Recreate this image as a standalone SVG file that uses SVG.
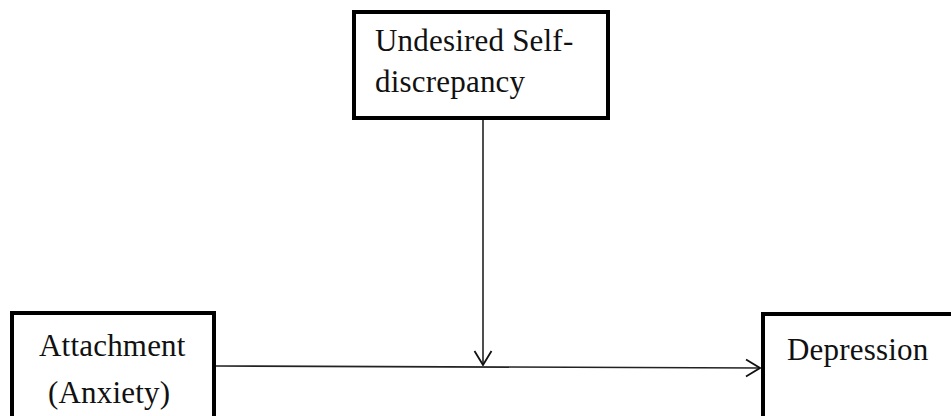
<svg xmlns="http://www.w3.org/2000/svg" width="951" height="416" viewBox="0 0 951 416">
<style>
.box{fill:#fff;stroke:#000;stroke-width:4}
.t{font-family:"Liberation Serif","Times New Roman",serif;font-size:31px;letter-spacing:0.2px;fill:#111}
.c{fill:none;stroke:#222;stroke-width:1.6}
</style>
<defs>
<marker id="ah" viewBox="0 0 16 20" refX="15" refY="10" markerWidth="16" markerHeight="20" markerUnits="userSpaceOnUse" orient="auto">
<path d="M1,1.5 L15,10 L1,18.5" fill="none" stroke="#111" stroke-width="1.8"/>
</marker>
</defs>
<rect width="951" height="416" fill="#fff"/>
<g id="connectors">
<line class="c" x1="216" y1="366" x2="760" y2="368" marker-end="url(#ah)"/>
<line class="c" x1="483" y1="120" x2="483" y2="365" marker-end="url(#ah)"/>
</g>
<g id="node-self-discrepancy">
<rect class="box" x="354" y="12" width="254" height="106"/>
<text class="t" x="375" y="51">Undesired Self-</text>
<text class="t" x="375" y="92">discrepancy</text>
</g>
<g id="node-attachment">
<rect class="box" x="12" y="313" width="202" height="130"/>
<text class="t" x="39" y="356">Attachment</text>
<text class="t" x="48" y="403">(Anxiety)</text>
</g>
<g id="node-depression">
<rect class="box" x="763" y="314" width="210" height="130"/>
<text class="t" x="787" y="360">Depression</text>
</g>
</svg>
